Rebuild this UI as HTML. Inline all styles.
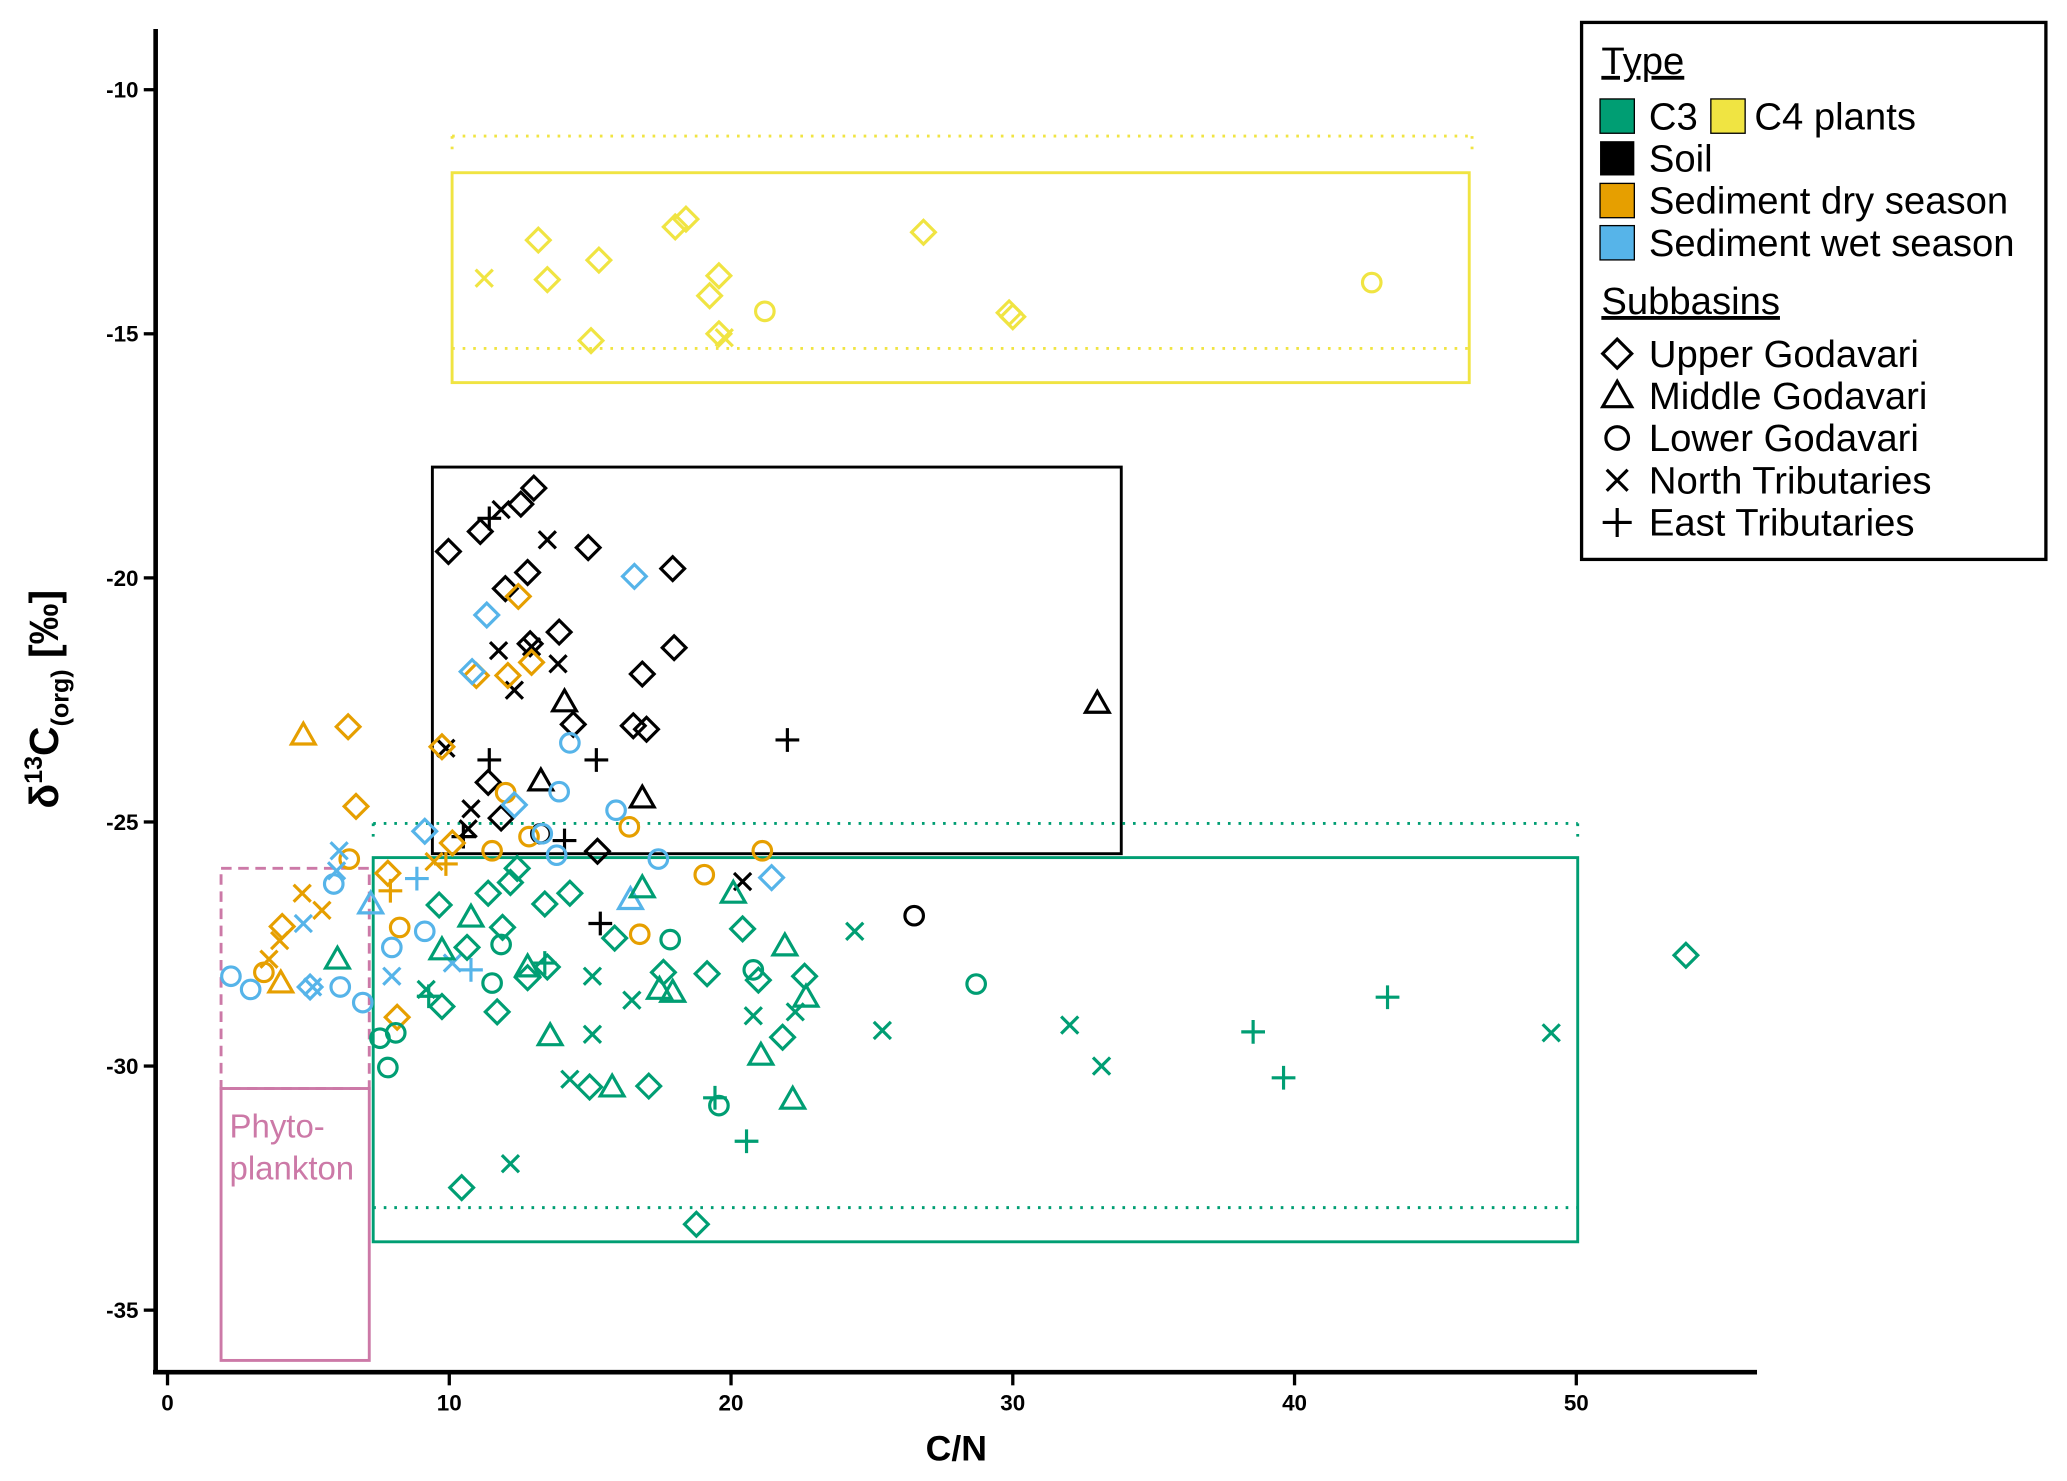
<!DOCTYPE html>
<html><head><meta charset="utf-8"><style>
html,body{margin:0;padding:0;background:#fff;}
svg{display:block;font-family:"Liberation Sans",Arial,sans-serif;}
</style></head><body>
<svg id="chart" width="2067" height="1481" viewBox="0 0 1567 1122.5" preserveAspectRatio="none" xmlns="http://www.w3.org/2000/svg">
<g id="boxes"></g>
<g id="points"></g>
<g id="axes"></g>
<text x="174" y="862" font-size="25" fill="#CC79A7">Phyto-</text>
<text x="174" y="894" font-size="25" fill="#CC79A7">plankton</text>
<text x="725" y="1107" font-size="27" font-weight="bold" text-anchor="middle">C/N</text>
<text transform="translate(44,530) rotate(-90)" font-size="31" font-weight="bold" text-anchor="middle">δ<tspan font-size="19" dy="-12">13</tspan><tspan dy="12">C</tspan><tspan font-size="19" dy="8">(org)</tspan><tspan dy="-8"> [‰]</tspan></text>
<g id="legend">
<rect x="1199" y="17" width="352" height="407" fill="#fff" stroke="#000" stroke-width="2.5"/>
<text x="1214" y="56" font-size="29" text-decoration="underline">Type</text>
<rect x="1213" y="75" width="26" height="26" fill="#009E73" stroke="#000" stroke-width="1"/>
<text x="1250" y="98" font-size="29">C3</text>
<rect x="1297" y="75" width="26" height="26" fill="#F0E442" stroke="#000" stroke-width="1"/>
<text x="1330" y="98" font-size="29">C4 plants</text>
<rect x="1213" y="107" width="26" height="26" fill="#000"/>
<text x="1250" y="130" font-size="29">Soil</text>
<rect x="1213" y="139" width="26" height="26" fill="#E69F00" stroke="#000" stroke-width="1"/>
<text x="1250" y="162" font-size="29">Sediment dry season</text>
<rect x="1213" y="171" width="26" height="26" fill="#56B4E9" stroke="#000" stroke-width="1"/>
<text x="1250" y="194" font-size="29">Sediment wet season</text>
<text x="1214" y="238" font-size="29" text-decoration="underline">Subbasins</text>
<g id="legshapes"></g>
<text x="1250" y="278" font-size="29">Upper Godavari</text>
<text x="1250" y="310" font-size="29">Middle Godavari</text>
<text x="1250" y="342" font-size="29">Lower Godavari</text>
<text x="1250" y="374" font-size="29">North Tributaries</text>
<text x="1250" y="406" font-size="29">East Tributaries</text>
</g>
</svg>
<script>
const xTicks=[0,10,20,30,40,50];
const yTicks=[-10,-15,-20,-25,-30,-35];
const colors={c4:"#F0E442",soil:"#000000",dry:"#E69F00",wet:"#56B4E9",c3:"#009E73"};
// boxes: [x0,x1,y0,y1]
const c4Box=[10.1,46.2,-11.7,-16.0];
const c4Dotted=[10.1,46.3,-10.95,-15.3];
const soilBox=[9.4,33.85,-17.73,-25.65];
const c3Box=[7.3,50.05,-25.73,-33.6];
const c3Dotted=[7.3,50.05,-25.03,-32.9];
const phytoDashed=[1.9,7.16,-25.95,-30.46];
const phytoSolid=[1.9,7.16,-30.46,-36.03];
// points: [x, y, shape]  shapes: d=diamond t=triangle o=circle x=cross p=plus
const c4Pts=[[13.16,-13.08,'d'],[13.48,-13.89,'d'],[15.31,-13.49,'d'],[15.03,-15.14,'d'],[18.02,-12.81,'d'],[18.4,-12.65,'d'],[19.24,-14.22,'d'],[19.57,-13.81,'d'],[19.57,-15.0,'d'],[26.83,-12.92,'d'],[29.87,-14.57,'d'],[30.0,-14.65,'d'],[21.2,-14.54,'o'],[42.74,-13.95,'o'],[11.24,-13.86,'x'],[19.76,-15.08,'x']];
const soilPts=[[13.0,-18.16,'d'],[12.54,-18.49,'d'],[11.1,-19.05,'d'],[9.97,-19.46,'d'],[14.93,-19.38,'d'],[12.78,-19.89,'d'],[17.93,-19.81,'d'],[11.99,-20.22,'d'],[13.9,-21.11,'d'],[17.98,-21.43,'d'],[12.87,-21.35,'d'],[16.85,-21.97,'d'],[14.4,-23.0,'d'],[16.53,-23.03,'d'],[17.0,-23.1,'d'],[11.38,-24.19,'d'],[15.26,-25.6,'d'],[11.84,-24.92,'d'],[14.09,-22.54,'t'],[13.25,-24.16,'t'],[16.85,-24.51,'t'],[33.0,-22.57,'t'],[26.5,-26.92,'o'],[13.25,-25.24,'o'],[11.84,-18.6,'x'],[13.48,-19.22,'x'],[11.75,-21.49,'x'],[12.92,-21.41,'x'],[13.86,-21.76,'x'],[12.31,-22.3,'x'],[9.88,-23.49,'x'],[10.77,-24.73,'x'],[10.67,-25.14,'x'],[20.41,-26.22,'x'],[11.42,-18.78,'p'],[11.42,-23.73,'p'],[15.22,-23.73,'p'],[22.0,-23.32,'p'],[14.09,-25.38,'p'],[15.36,-27.08,'p'],[10.5,-25.3,'p']];
const dryPts=[[4.82,-23.22,'t'],[4.02,-28.3,'t'],[6.41,-23.05,'d'],[6.69,-24.68,'d'],[4.07,-27.14,'d'],[7.82,-26.05,'d'],[8.15,-29.0,'d'],[12.45,-20.38,'d'],[10.96,-22.0,'d'],[12.92,-21.73,'d'],[12.08,-22.0,'d'],[9.74,-23.46,'d'],[10.11,-25.43,'d'],[6.45,-25.76,'o'],[8.24,-27.16,'o'],[3.42,-28.08,'o'],[11.52,-25.59,'o'],[12.83,-25.3,'o'],[16.39,-25.1,'o'],[16.76,-27.3,'o'],[19.05,-26.08,'o'],[21.11,-25.59,'o'],[12.0,-24.4,'o'],[4.78,-26.46,'x'],[5.48,-26.81,'x'],[3.6,-27.81,'x'],[3.98,-27.43,'x'],[9.46,-25.81,'x'],[7.91,-26.41,'p'],[9.88,-25.86,'p']];
const wetPts=[[2.25,-28.16,'o'],[2.95,-28.43,'o'],[6.13,-28.38,'o'],[6.93,-28.7,'o'],[7.96,-27.57,'o'],[9.13,-27.24,'o'],[5.9,-26.27,'o'],[13.9,-24.38,'o'],[14.28,-23.38,'o'],[13.3,-25.24,'o'],[15.92,-24.76,'o'],[13.81,-25.68,'o'],[17.42,-25.76,'o'],[11.33,-20.76,'d'],[10.81,-21.92,'d'],[16.57,-19.97,'d'],[12.31,-24.65,'d'],[9.13,-25.19,'d'],[21.44,-26.14,'d'],[5.06,-28.38,'d'],[7.21,-26.68,'t'],[16.43,-26.59,'t'],[6.09,-25.59,'x'],[6.0,-26.0,'x'],[4.82,-27.08,'x'],[5.15,-28.38,'x'],[7.96,-28.16,'x'],[10.11,-27.89,'x'],[8.85,-26.16,'p'],[10.77,-28.03,'p']];
const c3Pts=[[6.03,-27.81,'t'],[10.77,-26.95,'t'],[9.74,-27.62,'t'],[12.78,-27.97,'t'],[13.58,-29.38,'t'],[15.78,-30.43,'t'],[16.85,-26.35,'t'],[17.46,-28.43,'t'],[17.93,-28.49,'t'],[20.08,-26.46,'t'],[21.06,-29.78,'t'],[21.91,-27.54,'t'],[22.66,-28.59,'t'],[22.19,-30.68,'t'],[9.64,-26.7,'d'],[9.74,-28.78,'d'],[10.63,-27.57,'d'],[11.38,-26.46,'d'],[11.7,-28.89,'d'],[11.89,-27.16,'d'],[12.17,-26.24,'d'],[12.41,-25.95,'d'],[12.78,-28.19,'d'],[13.39,-26.68,'d'],[13.48,-27.97,'d'],[14.28,-26.46,'d'],[14.98,-30.43,'d'],[15.87,-27.38,'d'],[17.08,-30.41,'d'],[17.6,-28.08,'d'],[19.15,-28.11,'d'],[20.41,-27.19,'d'],[20.97,-28.24,'d'],[21.83,-29.41,'d'],[22.61,-28.16,'d'],[10.44,-32.49,'d'],[18.77,-33.24,'d'],[53.89,-27.73,'d'],[7.54,-29.43,'o'],[8.1,-29.32,'o'],[7.82,-30.03,'o'],[11.52,-28.3,'o'],[11.84,-27.51,'o'],[17.84,-27.41,'o'],[20.79,-28.03,'o'],[19.57,-30.81,'o'],[28.7,-28.32,'o'],[9.18,-28.43,'x'],[15.08,-28.16,'x'],[15.08,-29.35,'x'],[14.28,-30.27,'x'],[16.48,-28.65,'x'],[20.79,-28.97,'x'],[22.28,-28.89,'x'],[24.39,-27.24,'x'],[25.37,-29.27,'x'],[32.02,-29.16,'x'],[33.15,-30.0,'x'],[12.17,-32.0,'x'],[49.11,-29.32,'x'],[9.27,-28.57,'p'],[19.43,-30.65,'p'],[20.55,-31.54,'p'],[38.53,-29.3,'p'],[39.61,-30.24,'p'],[43.3,-28.59,'p'],[13.39,-27.89,'p']];

const NS="http://www.w3.org/2000/svg";
const X0=127,XS=21.36,Y0=68,YS=37;
function sx(v){return X0+v*XS;}
function sy(v){return Y0+(-10-v)*YS;}
function mk(tag,attrs,parent){const e=document.createElementNS(NS,tag);for(const k in attrs)e.setAttribute(k,attrs[k]);parent.appendChild(e);return e;}
const boxes=document.getElementById('boxes');
function box(b,col,dash,name,sw){
  const r=mk('rect',{x:sx(b[0]),y:sy(b[2]),width:sx(b[1])-sx(b[0]),height:sy(b[3])-sy(b[2]),fill:'none',stroke:col,'stroke-width':sw||2.2},boxes);
  if(dash)r.setAttribute('stroke-dasharray',dash);
  
  
}
function dottedH(b,col,name){
  [b[2],b[3]].forEach(function(yv){
    const l=mk('line',{x1:sx(b[0]),x2:sx(b[1]),y1:sy(yv),y2:sy(yv),stroke:col,'stroke-width':2.2,'stroke-dasharray':'2 6'},boxes);
    
    
  });
  [b[0],b[1]].forEach(function(xv){
    const l=mk('line',{x1:sx(xv),x2:sx(xv),y1:sy(b[2]),y2:sy(b[2])+12,stroke:col,'stroke-width':2.2,'stroke-dasharray':'2 6'},boxes);
    
    
  });
}
dottedH(c4Dotted,colors.c4,'c4-dotted-range');
box(c4Box,colors.c4,null,'c4-range-box');
box(soilBox,'#000',null,'soil-range-box');
dottedH(c3Dotted,colors.c3,'c3-dotted-range');
box(c3Box,colors.c3,null,'c3-range-box');
box(phytoDashed,'#CC79A7','8 5','phyto-dashed-box');
box(phytoSolid,'#CC79A7',null,'phyto-range-box');

const pts=document.getElementById('points');
function shape(parent,cx,cy,s,col,r){
  r=r||9;let e;
  if(s==='d')e=mk('path',{d:`M${cx} ${cy-r}L${cx+r} ${cy}L${cx} ${cy+r}L${cx-r} ${cy}Z`},parent);
  else if(s==='t')e=mk('path',{d:`M${cx} ${cy-r}L${cx+r} ${cy+r*0.75}L${cx-r} ${cy+r*0.75}Z`},parent);
  else if(s==='o')e=mk('circle',{cx:cx,cy:cy,r:r*0.78},parent);
  else if(s==='x'){const q=r*0.72;e=mk('path',{d:`M${cx-q} ${cy-q}L${cx+q} ${cy+q}M${cx-q} ${cy+q}L${cx+q} ${cy-q}`},parent);}
  else e=mk('path',{d:`M${cx-r} ${cy}L${cx+r} ${cy}M${cx} ${cy-r}L${cx} ${cy+r}`},parent);
  e.setAttribute('fill','none');e.setAttribute('stroke',col);e.setAttribute('stroke-width',2.4);
  return e;
}
[[c4Pts,colors.c4,'c4'],[soilPts,colors.soil,'soil'],[dryPts,colors.dry,'dry'],[wetPts,colors.wet,'wet'],[c3Pts,colors.c3,'c3']].forEach(function(g){
  g[0].forEach(function(p){
    const e=shape(pts,sx(p[0]),sy(p[1]),p[2],g[1]);
    
    
  });
});

const axes=document.getElementById('axes');
const ya=mk('line',{x1:118,x2:118,y1:22,y2:1041,stroke:'#000','stroke-width':3.5},axes);


const xa=mk('line',{x1:116,x2:1332,y1:1040,y2:1040,stroke:'#000','stroke-width':3.5},axes);


xTicks.forEach(function(v){
  const t=mk('line',{x1:sx(v),x2:sx(v),y1:1040,y2:1050,stroke:'#000','stroke-width':2.5},axes);
  
  
  const l=mk('text',{x:sx(v),y:1069,'font-size':17,'font-weight':'bold','text-anchor':'middle'},axes);
  l.textContent=v;
  
  
});
yTicks.forEach(function(v){
  const t=mk('line',{x1:109,x2:118,y1:sy(v),y2:sy(v),stroke:'#000','stroke-width':2.5},axes);
  
  
  const l=mk('text',{x:105,y:sy(v)+6,'font-size':17,'font-weight':'bold','text-anchor':'end'},axes);
  l.textContent=String(v);
  
  
});
const ls=document.getElementById('legshapes');
['d','t','o','x','p'].forEach(function(s,i){
  const e=shape(ls,1226,268+i*32,s,'#000',11);
  
  
});
</script>
</body></html>
